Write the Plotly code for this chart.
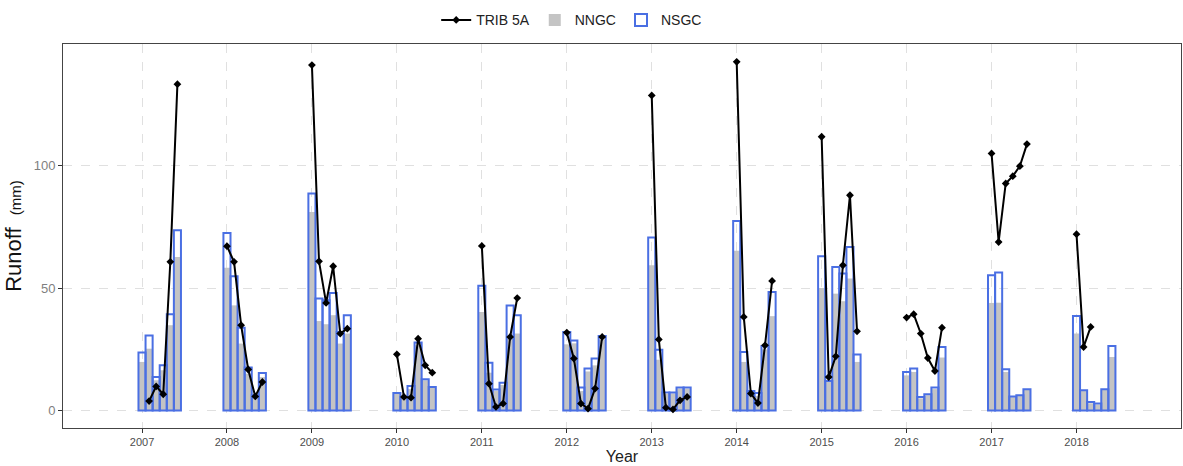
import plotly.graph_objects as go

years = list(range(2007, 2019))

# NSGC (blue outline) monthly values, 6 per year
nsgc = [
    [23.7, 30.7, 13.7, 18.5, 39.4, 73.7],   # 2007
    [72.6, 54.9, 33.9, 17.6, 6.3, 15.4],    # 2008
    [88.7, 45.8, 45.1, 48.1, 32.1, 39.0],   # 2009
    [7.2, 5.6, 10.1, 27.8, 12.8, 9.7],      # 2010
    [51.0, 19.6, 8.6, 11.4, 43.0, 39.0],    # 2011
    [32.1, 28.7, 9.4, 17.2, 21.3, 30.5],    # 2012
    [70.7, 24.9, 7.4, 7.4, 9.4, 9.4],       # 2013
    [77.5, 24.0, 8.0, 7.2, 26.4, 48.5],     # 2014
    [63.1, 12.1, 58.7, 56.0, 66.9, 22.9],   # 2015
    [15.8, 17.2, 5.6, 6.7, 9.4, 26.0],      # 2016
    [55.3, 56.4, 16.9, 5.8, 6.3, 8.7],      # 2017
    [38.7, 8.3, 3.5, 2.9, 8.7, 26.4],       # 2018
]

# NNGC (grey fill) monthly values
nngc = [
    [19.9, 25.3, 12.4, 16.5, 34.9, 62.8],
    [58.4, 43.0, 27.4, 15.1, 5.2, 13.7],
    [81.2, 36.6, 35.3, 39.0, 27.4, 31.5],
    [6.8, 5.3, 8.8, 26.7, 12.4, 9.3],
    [40.3, 15.5, 8.0, 10.5, 29.4, 31.5],
    [27.1, 27.5, 8.0, 16.0, 18.5, 29.0],
    [59.4, 20.8, 6.8, 7.0, 9.0, 9.0],
    [65.3, 19.9, 7.0, 6.0, 25.0, 38.6],
    [50.1, 11.8, 47.8, 44.7, 54.0, 19.9],
    [14.4, 15.8, 5.0, 6.3, 8.8, 21.7],
    [44.0, 44.1, 15.8, 5.5, 6.0, 8.5],
    [31.5, 8.0, 3.0, 2.5, 8.5, 21.9],
]

# TRIB 5A monthly values (None = no observation)
trib = [
    [None, 3.9, 9.9, 6.7, 60.8, 133.4],
    [67.2, 60.8, 34.9, 16.8, 5.8, 11.7],
    [141.2, 61.0, 44.0, 59.0, 31.5, 33.5],
    [23.0, 5.6, 5.3, 29.4, 18.5, 15.5],
    [67.3, 11.0, 1.5, 2.9, 30.1, 46.0],
    [31.9, 21.3, 2.9, 0.8, 9.0, 30.1],
    [128.8, 29.1, 1.2, 0.5, 4.2, 5.6],
    [142.5, 38.3, 7.0, 3.1, 26.7, 53.0],
    [111.9, 13.7, 22.2, 59.4, 88.0, 32.4],
    [38.0, 39.4, 31.5, 21.5, 16.2, 33.9],
    [105.1, 68.9, 92.8, 95.8, 99.9, 108.9],
    [72.1, 26.0, 34.2, None, None, None],
]

month_idx = list(range(6))
y_ticks = [0, 50, 100]

bx, b_nngc, b_nsgc = [], [], []
lx, ly = [], []
for yr, a, b, t in zip(years, nngc, nsgc, trib):
    for k in month_idx:
        x = yr + k / 12
        bx.append(x)
        b_nngc.append(a[k])
        b_nsgc.append(b[k])
        if t[k] is not None:
            lx.append(x)
            ly.append(t[k])
    lx.append(None)
    ly.append(None)

fig = go.Figure()
fig.add_trace(go.Bar(
    x=bx, y=b_nngc, width=1 / 12, name="NNGC",
    marker=dict(color="#c4c4c4", line=dict(width=0)),
    legendrank=2,
))
fig.add_trace(go.Bar(
    x=bx, y=b_nsgc, width=1 / 12, name="NSGC",
    marker=dict(color="rgba(255,255,255,0)", line=dict(color="#4a6fe3", width=2)),
    legendrank=3,
))
fig.add_trace(go.Scatter(
    x=lx, y=ly, mode="lines+markers", name="TRIB 5A",
    line=dict(color="black", width=2),
    marker=dict(symbol="diamond", size=6, color="black"),
    connectgaps=False, legendrank=1,
))

fig.update_layout(
    width=1183, height=466, autosize=False,
    margin=dict(l=63, r=2, t=44, b=38, autoexpand=False),
    barmode="overlay",
    plot_bgcolor="white", paper_bgcolor="white",
    font=dict(family="Liberation Sans, Arial, sans-serif", color="#222"),
    legend=dict(orientation="h", x=0.455, xanchor="center",
                y=1.02, yanchor="bottom",
                font=dict(size=14, color="#222"), itemwidth=30,
                tracegroupgap=0,
                bgcolor="rgba(0,0,0,0)"),
    xaxis=dict(
        range=[2006.07, 2019.23], tickmode="array", tickvals=years,
        ticktext=[str(y) for y in years],
        tickfont=dict(size=11, color="#4d4d4d"),
        ticks="outside", ticklen=4, tickcolor="#333",
        showgrid=True, gridcolor="#e0e0e0", griddash="dash", gridwidth=1,
        showline=True, linecolor="#444", linewidth=1, mirror=True,
        zeroline=False, automargin=False,
        title=dict(text="Year", font=dict(size=16, color="#222"), standoff=3),
    ),
    yaxis=dict(
        range=[-7.1, 149.8], tickmode="array", tickvals=y_ticks,
        tickfont=dict(size=13, color="#7f7f7f"),
        ticks="outside", ticklen=4, tickcolor="#333",
        showgrid=True, gridcolor="#e0e0e0", griddash="dash", gridwidth=1,
        showline=True, linecolor="#444", linewidth=1, mirror=True,
        zeroline=False, automargin=False,
        title=dict(text="Runoff  <span style='font-size:15px'>(mm)</span>",
                   font=dict(size=22, color="#111"), standoff=5),
    ),
)

fig.write_html("out.html")
